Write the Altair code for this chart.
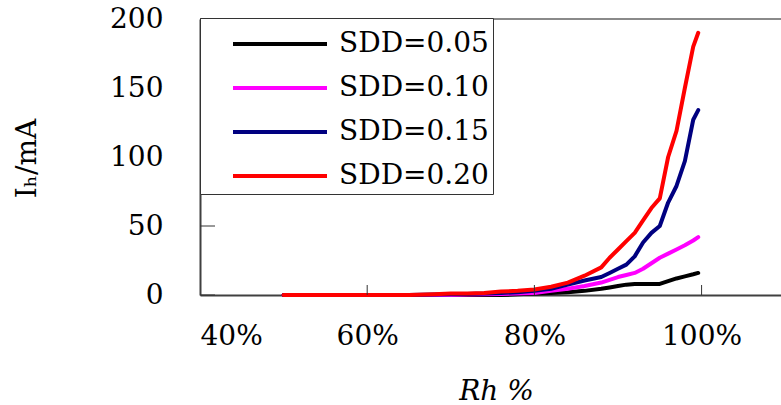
import altair as alt
import pandas as pd

# ---- data ----
rh = [50, 55, 60, 65, 68, 70, 72, 74, 76, 78, 80, 82, 84, 86, 88, 89, 90,
      91, 92, 93, 94, 95, 96, 97, 98, 99, 99.6]
sdd_005 = [0, 0, 0, 0, 0, 0, 0, 0, 0, 0.5, 1, 1.5, 2, 3, 4.5, 5.5, 6.5,
           7.5, 8, 8, 8, 8, 10, 12, 13.5, 15, 16]
sdd_010 = [0, 0, 0, 0, 0, 0, 0.3, 0.5, 0.8, 1, 1.5, 3, 4.5, 6.5, 9, 11, 13,
           14.5, 16, 19, 23, 27, 30, 33, 36, 39.5, 42]
sdd_015 = [0, 0, 0, 0, 0.3, 0.5, 0.8, 1, 1.5, 2, 3, 4.5, 7.5, 10.5, 13, 16, 19,
           22, 28, 38, 45, 50, 67, 79, 97, 127, 134]
sdd_020 = [0, 0, 0, 0, 0.5, 1, 1, 1.5, 2.5, 3, 4, 6, 9, 14, 20, 27, 33,
           39, 45, 54, 63, 70, 100, 119, 150, 180, 190]

series_names = ["SDD=0.05", "SDD=0.10", "SDD=0.15", "SDD=0.20"]
series_colors = ["#000000", "#FF00FF", "#000080", "#FF0000"]
x_ticks = [40, 60, 80, 100]
y_ticks = [0, 50, 100, 150, 200]
x_title = "Rh %"
y_title = "Iₕ/mA"

rows = []
for name, vals in zip(series_names, [sdd_005, sdd_010, sdd_015, sdd_020]):
    for x, y in zip(rh, vals):
        rows.append({"rh": x, "ih": y, "series": name})
df = pd.DataFrame(rows)

FONT = "DejaVu Serif"
x_scale = alt.Scale(domain=[40, 109.5], nice=False, zero=False)
y_scale = alt.Scale(domain=[0, 200], nice=False)

x_axis = alt.Axis(values=x_ticks, labelExpr="datum.value + '%'", ticks=False, grid=False,
                  domainColor="#404040", domainWidth=2,
                  labelFont=FONT, labelFontSize=28, labelPadding=27, labelColor="black",
                  titleFont=FONT, titleFontSize=28, titleFontStyle="italic",
                  titleFontWeight="normal", titleColor="black",
                  titleX=296, titleY=96, titleBaseline="middle", titleAlign="center")
y_axis = alt.Axis(values=y_ticks, ticks=False, grid=False,
                  domainColor="#404040", domainWidth=2,
                  labelFont=FONT, labelFontSize=28, labelPadding=37, labelColor="black",
                  titleFont=FONT, titleFontSize=28, titleFontWeight="normal",
                  titleColor="black", titleX=-173, titleY=139,
                  titleBaseline="middle", titleAlign="center")

lines = alt.Chart(df).mark_line(strokeWidth=4, strokeJoin="round", strokeCap="round").encode(
    x=alt.X("rh:Q", scale=x_scale, axis=x_axis, title=x_title),
    y=alt.Y("ih:Q", scale=y_scale, axis=y_axis, title=y_title),
    color=alt.Color("series:N", scale=alt.Scale(domain=series_names, range=series_colors),
                    legend=alt.Legend(orient="none", legendX=0, legendY=-1, title=None,
                                      padding=4, fillColor="white", strokeColor="#333333",
                                      symbolType="M-1,0H3.7", symbolSize=1600,
                                      symbolStrokeWidth=4, symbolOffset=27,
                                      labelOffset=64, labelFont=FONT, labelFontSize=28,
                                      labelColor="black", rowPadding=8, labelLimit=400)),
)

top_rule = alt.Chart(pd.DataFrame({"v": [200]})).mark_rule(color="#8a8a8a", strokeWidth=2).encode(
    y=alt.Y("v:Q", scale=y_scale, title=y_title)
)

y_tick_marks = alt.Chart(pd.DataFrame({"v": y_ticks, "x0": [40] * len(y_ticks)})).mark_rule(
    color="#333333", strokeWidth=1, x2Offset=15
).encode(
    y=alt.Y("v:Q", scale=y_scale, title=y_title),
    x=alt.X("x0:Q", scale=x_scale, title=x_title),
    x2="x0:Q",
)

x_tick_marks = alt.Chart(pd.DataFrame({"v": x_ticks[1:], "y0": [0] * (len(x_ticks) - 1)})).mark_rule(
    color="#333333", strokeWidth=1, y2Offset=-10
).encode(
    x=alt.X("v:Q", scale=x_scale, title=x_title),
    y=alt.Y("y0:Q", scale=y_scale, title=y_title),
    y2="y0:Q",
)

chart = alt.layer(lines, top_rule, y_tick_marks, x_tick_marks).properties(
    width=581, height=276,
    padding={"left": 200, "top": 19, "right": 0, "bottom": 110},
    autosize=alt.AutoSizeParams(type="none"),
    background="white",
).configure_view(stroke=None)

chart.save("out.html", embed_options={"renderer": "svg", "actions": False})
